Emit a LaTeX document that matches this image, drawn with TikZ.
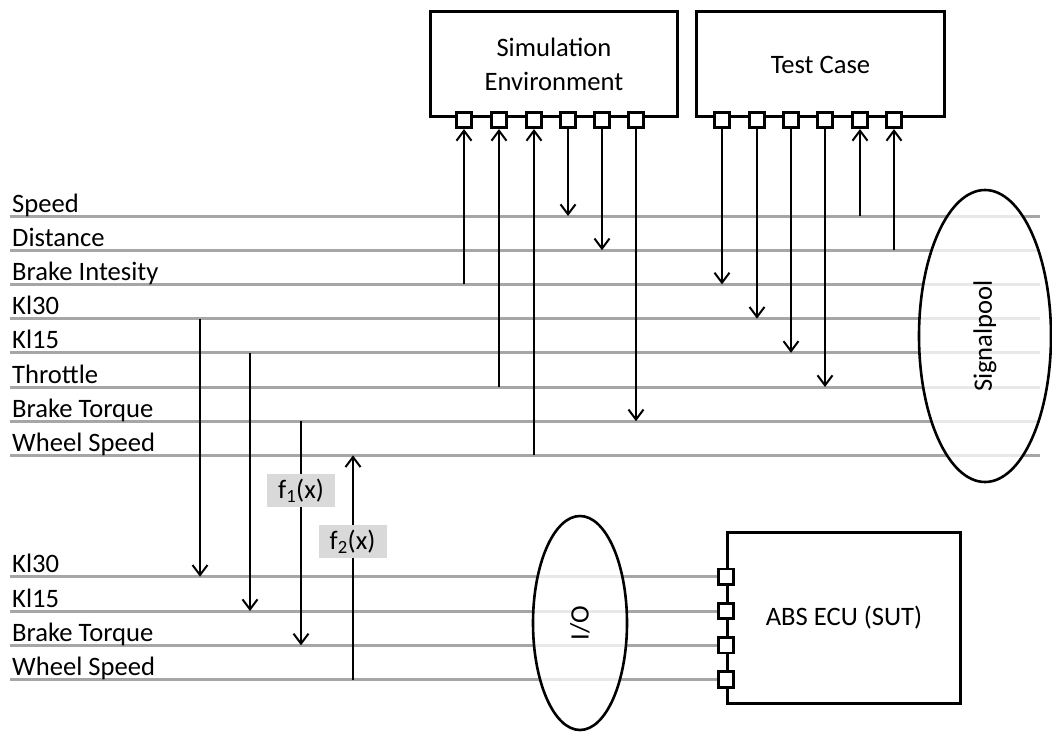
\documentclass[tikz,border=0pt]{standalone}
\usepackage{fontspec}
\setmainfont{Carlito}
\usetikzlibrary{arrows.meta,shapes.geometric}
\pgfdeclarelayer{bg}
\pgfsetlayers{bg,main}
\definecolor{sgray}{HTML}{A6A6A6}
\definecolor{fgray}{HTML}{D9D9D9}
\begin{document}
\begin{tikzpicture}[x=1pt,y=-1pt,
  every node/.style={font=\fontsize{26.6}{33.5}\selectfont},
  sig/.style={draw=sgray, line width=3pt},
  arr/.style={draw=black, line width=2pt, -{Straight Barb[length=10pt,width=15pt]}},
  box/.style={draw, line width=3pt, rectangle, inner sep=0pt},
  port/.style={draw, fill=white, line width=2.6pt, minimum size=15.5pt, inner sep=0pt},
  lab/.style={anchor=base west, inner sep=0pt},
  flab/.style={fill=fgray, minimum width=68pt, minimum height=33pt, inner sep=0pt},
  pool/.style={ellipse, draw, line width=2.6pt, fill=white, fill opacity=0.75, text opacity=1, inner sep=0pt},
]
\useasboundingbox (0,0) rectangle (1052,733);
% blocks
\node[box, minimum width=247pt, minimum height=105pt, align=center] (sim) at (554,64.5) {Simulation\\Environment};
\node[box, minimum width=248pt, minimum height=105pt] (tc) at (820.5,64.5) {Test Case};
\node[box, minimum width=233pt, minimum height=171pt] (ecu) at (844,618) {ABS ECU (SUT)};
% ports
\foreach \i/\x in {1/464,2/499,3/534,4/568,5/602,6/636}
  \node[port] (sp\i) at (\x,120) {};
\foreach \i/\x in {1/722,2/757,3/791,4/825,5/860,6/894}
  \node[port] (tp\i) at (\x,120) {};
\foreach \i/\y in {1/576.7,2/611,3/645.3,4/679.5}
  \node[port] (ep\i) at (726,\y) {};
% signal lines
\foreach \i/\y/\t in {1/216/Speed,2/250.2/Distance,3/284.4/Brake Intesity,4/318.6/Kl30,5/352.8/Kl15,6/387/Throttle,7/421.2/Brake Torque,8/455.4/Wheel Speed}{
  \coordinate (u\i) at (10,\y);
  \coordinate (u\i e) at (1040,\y);
  \node[lab] (ut\i) at (12,\y-4) {\t};
}
\foreach \i/\y/\t in {1/576.7/Kl30,2/611/Kl15,3/645.3/Brake Torque,4/679.5/Wheel Speed}{
  \coordinate (l\i) at (10,\y);
  \node[lab] (lt\i) at (12,\y-4) {\t};
}
\begin{pgfonlayer}{bg}
\foreach \i in {1,...,8} \draw[sig] (u\i) -- (u\i e);
\foreach \i in {1,...,4} \draw[sig] (l\i) -- (ep\i.west);
\end{pgfonlayer}
% pools
\node[pool, rotate=90, minimum width=292pt, minimum height=132pt] (pool) at (985,336) {Signalpool};
\node[pool, rotate=90, minimum width=214pt, minimum height=94pt] (io) at (580,623) {I/O};
% simulation environment connections
\draw[arr] (sp1.south |- u3) -- (sp1.south);
\draw[arr] (sp2.south |- u6) -- (sp2.south);
\draw[arr] (sp3.south |- u8) -- (sp3.south);
\draw[arr] (sp4.south) -- (sp4.south |- u1);
\draw[arr] (sp5.south) -- (sp5.south |- u2);
\draw[arr] (sp6.south) -- (sp6.south |- u7);
% test case connections
\draw[arr] (tp1.south) -- (tp1.south |- u3);
\draw[arr] (tp2.south) -- (tp2.south |- u4);
\draw[arr] (tp3.south) -- (tp3.south |- u5);
\draw[arr] (tp4.south) -- (tp4.south |- u6);
\draw[arr] (tp5.south |- u1) -- (tp5.south);
\draw[arr] (tp6.south |- u2) -- (tp6.south);
% mapping to ECU signals
\coordinate (v1) at (200,318.6);
\coordinate (v2) at (250,352.8);
\coordinate (v3) at (301,421.2);
\coordinate (v4) at (353,679.5);
\draw[arr] (v1) -- (v1 |- l1);
\draw[arr] (v2) -- (v2 |- l2);
\draw[arr] (v3) -- (v3 |- l3);
\draw[arr] (v4) -- (v4 |- u8);
\node[flab] (f1) at (301,490.5) {f\textsubscript{1}(x)};
\node[flab] (f2) at (352.5,541.5) {f\textsubscript{2}(x)};
\end{tikzpicture}
\end{document}
